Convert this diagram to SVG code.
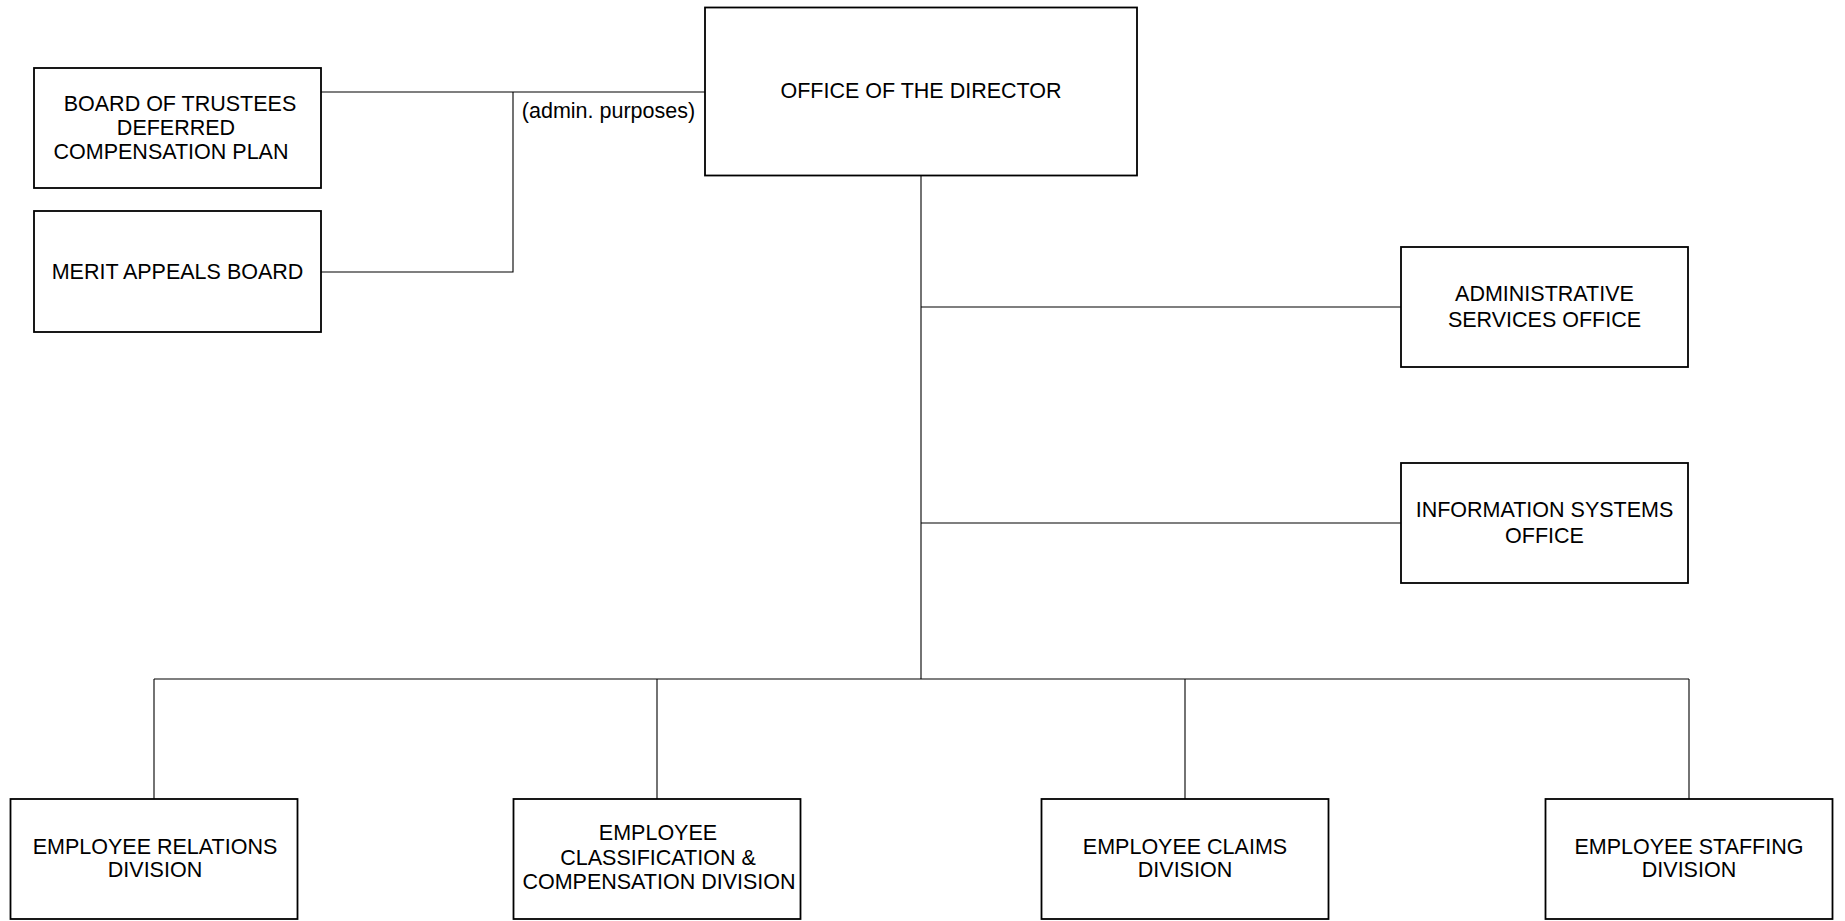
<svg xmlns="http://www.w3.org/2000/svg" width="1845" height="921" viewBox="0 0 1845 921">
<style>
.box{fill:#fff;stroke:#000;stroke-width:1.8}
.ln{fill:none;stroke:#000;stroke-width:1.1}
text{font-family:"Liberation Sans",Arial,sans-serif;font-size:21.5px;fill:#000;text-anchor:middle}
</style>
<rect width="1845" height="921" fill="#fff"/>
<g id="connectors">
<polyline class="ln" points="321,92 705,92"/>
<polyline class="ln" points="321,272 513,272 513,92"/>
<line class="ln" x1="921" y1="175" x2="921" y2="679"/>
<line class="ln" x1="921" y1="307" x2="1401" y2="307"/>
<line class="ln" x1="921" y1="523" x2="1401" y2="523"/>
<line class="ln" x1="154" y1="679" x2="1689" y2="679"/>
<line class="ln" x1="154" y1="679" x2="154" y2="799"/>
<line class="ln" x1="657" y1="679" x2="657" y2="799"/>
<line class="ln" x1="1185" y1="679" x2="1185" y2="799"/>
<line class="ln" x1="1689" y1="679" x2="1689" y2="799"/>
<text x="608.5" y="118">(admin. purposes)</text>
</g>
<g id="director">
<rect class="box" x="705" y="7.5" width="432" height="168"/>
<text x="921" y="98">OFFICE OF THE DIRECTOR</text>
</g>
<g id="board-trustees">
<rect class="box" x="34" y="68" width="287" height="120"/>
<text x="180" y="110.5">BOARD OF TRUSTEES</text>
<text x="176" y="135">DEFERRED</text>
<text x="171" y="159">COMPENSATION PLAN</text>
</g>
<g id="merit-appeals">
<rect class="box" x="34" y="211" width="287" height="121"/>
<text x="177.5" y="278.5">MERIT APPEALS BOARD</text>
</g>
<g id="admin-services">
<rect class="box" x="1401" y="247" width="287" height="120"/>
<text x="1544.5" y="300.5">ADMINISTRATIVE</text>
<text x="1544.5" y="326.5">SERVICES OFFICE</text>
</g>
<g id="info-systems">
<rect class="box" x="1401" y="463" width="287" height="120"/>
<text x="1544.5" y="517">INFORMATION SYSTEMS</text>
<text x="1544.5" y="543">OFFICE</text>
</g>
<g id="relations">
<rect class="box" x="10.5" y="799" width="287" height="120"/>
<text x="155" y="853.5">EMPLOYEE RELATIONS</text>
<text x="155" y="877">DIVISION</text>
</g>
<g id="classification">
<rect class="box" x="513.5" y="799" width="287" height="120"/>
<text x="658" y="839.5">EMPLOYEE</text>
<text x="658" y="864.5">CLASSIFICATION &amp;</text>
<text x="659" y="889">COMPENSATION DIVISION</text>
</g>
<g id="claims">
<rect class="box" x="1041.5" y="799" width="287" height="120"/>
<text x="1185" y="853.5">EMPLOYEE CLAIMS</text>
<text x="1185" y="877">DIVISION</text>
</g>
<g id="staffing">
<rect class="box" x="1545.5" y="799" width="287" height="120"/>
<text x="1689" y="853.5">EMPLOYEE STAFFING</text>
<text x="1689" y="877">DIVISION</text>
</g>
</svg>
